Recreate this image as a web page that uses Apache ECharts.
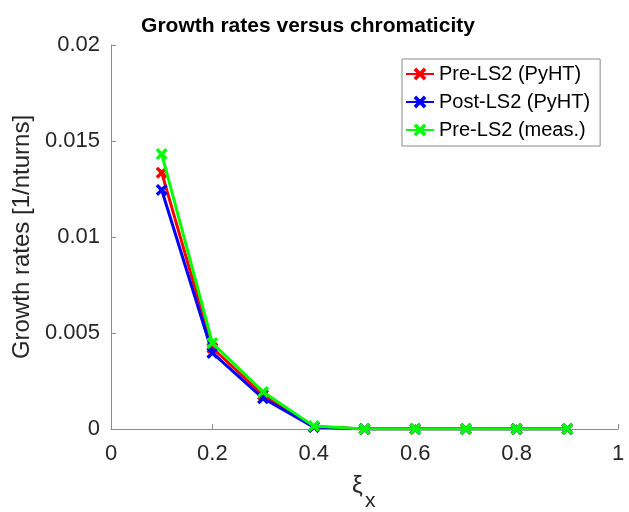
<!DOCTYPE html>
<html>
<head>
<meta charset="utf-8">
<script src="https://cdn.jsdelivr.net/npm/echarts@6/dist/echarts.min.js"></script>
<style>html,body{margin:0;padding:0;background:#fff}#c{width:629px;height:512px}</style>
</head>
<body>
<div id="c"></div>
<script>
var xi = [0.1, 0.2, 0.3, 0.4, 0.5, 0.6, 0.7, 0.8, 0.9];
var preLS2PyHT = [0.01335, 0.00422, 0.00177, 0.00012, 0, 0, 0, 0, 0];
var postLS2PyHT = [0.01245, 0.00396, 0.00160, 0.00010, 0, 0, 0, 0, 0];
var preLS2Meas = [0.01432, 0.00448, 0.00193, 0.00015, 0, 0, 0, 0, 0];
var xTicks = [0, 0.2, 0.4, 0.6, 0.8, 1];
var yTicks = [0, 0.005, 0.01, 0.015, 0.02];
var seriesNames = ['Pre-LS2 (PyHT)', 'Post-LS2 (PyHT)', 'Pre-LS2 (meas.)'];
var seriesColors = ['#ff0000', '#0000ff', '#00ff00'];
var seriesValues = [preLS2PyHT, postLS2PyHT, preLS2Meas];

var cross = 'path://M0,2L2,0L5,3L8,0L10,2L7,5L10,8L8,10L5,7L2,10L0,8L3,5Z';
var font = 'Liberation Sans, Arial, Helvetica, sans-serif';

function pairs(v){ return xi.map(function(x,i){ return [x, v[i]]; }); }
function nearest(list, v){ return list.reduce(function(a,b){return Math.abs(b-v)<Math.abs(a-v)?b:a;}); }

var chart = echarts.init(document.getElementById('c'), null, {renderer:'canvas'});
chart.setOption({
  animation: false,
  backgroundColor: '#ffffff',
  textStyle: {fontFamily: font},
  title: {
    text: 'Growth rates versus chromaticity',
    left: 303, top: 11, textAlign: 'center',
    textStyle: {fontFamily: font, fontWeight: 'bold', fontSize: 21, color: '#000'}
  },
  grid: {left: 111, right: 11, top: 45, bottom: 83, containLabel: false},
  legend: {
    orient: 'vertical', left: 402, top: 59,
    data: seriesNames,
    backgroundColor: '#fff', borderColor: '#8a8a8a', borderWidth: 1,
    padding: [5, 10, 6, 3],
    itemWidth: 28, itemHeight: 16, itemGap: 8,
    textStyle: {fontFamily: font, fontSize: 20, color: '#000', lineHeight: 20},
    itemStyle: {borderWidth: 0}
  },
  xAxis: {
    type: 'value', min: 0, max: 1, interval: 0.2,
    axisLine: {show: true, lineStyle: {color: '#8a8a8a', width: 1}},
    axisTick: {show: true, inside: true, length: 5, lineStyle: {color: '#8a8a8a'}},
    splitLine: {show: false},
    axisLabel: {fontFamily: font, fontSize: 22, color: '#262626', margin: 14,
      formatter: function(v){ return String(nearest(xTicks, v)); }}
  },
  yAxis: {
    type: 'value', min: 0, max: 0.02, interval: 0.005,
    name: 'Growth rates [1/nturns]', nameLocation: 'middle', nameGap: 75,
    nameTextStyle: {fontFamily: font, fontSize: 24, color: '#262626'},
    axisLine: {show: true, lineStyle: {color: '#8a8a8a', width: 1}},
    axisTick: {show: true, inside: true, length: 5, lineStyle: {color: '#8a8a8a'}},
    splitLine: {show: false},
    axisLabel: {fontFamily: font, fontSize: 22, color: '#262626', margin: 11,
      formatter: function(v){ return String(nearest(yTicks, v)); }}
  },
  graphic: [
    {type: 'text', left: 352, top: 474, style: {text: 'ξ', font: '24px ' + font, fill: '#262626'}},
    {type: 'text', left: 365, top: 491, style: {text: 'x', font: '21px ' + font, fill: '#262626'}}
  ],
  series: seriesNames.map(function(n, i){
    return {
      name: n, type: 'line', data: pairs(seriesValues[i]),
      symbol: cross, symbolSize: 12, showSymbol: true,
      lineStyle: {color: seriesColors[i], width: 3},
      itemStyle: {color: seriesColors[i]},
      z: 2 + i
    };
  })
});
</script>
</body>
</html>
